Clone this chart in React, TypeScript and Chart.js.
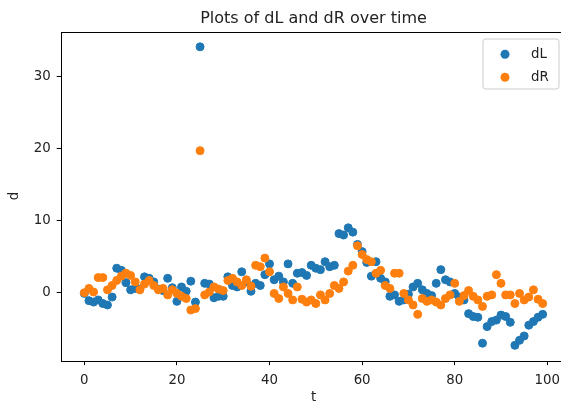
import React, { useEffect, useRef } from "react";
import { Chart, registerables } from "chart.js";

Chart.register(...registerables);

// time index (x values)
const tValues: number[] = Array.from({ length: 100 }, (_, i) => i);

// dL series
const dL: number[] = [
  -0.1, -1.1, -1.3, -1.0, -1.5, -1.7, -0.6, 3.4, 3.1, 1.4,
  0.4, 0.6, 0.5, 2.2, 2.0, 1.5, 0.5, 0.3, 2.0, 0.7,
  -1.2, 0.8, 0.2, 1.6, -1.3, 34.1, 1.3, 1.2, -0.7, -0.5,
  -0.5, 2.2, 1.0, 0.8, 2.9, 1.5, 0.2, 1.3, 1.0, 2.5,
  4.0, 1.8, 2.3, 1.5, 4.0, 1.3, 2.7, 2.8, 2.4, 3.8,
  3.4, 3.2, 4.3, 3.6, 3.8, 8.2, 8.0, 9.0, 8.4, 6.7,
  5.7, 4.2, 2.3, 4.3, 2.0, 1.5, -0.5, -0.3, -1.2, -1.0,
  -0.2, 0.8, 1.3, 0.4, -0.1, -0.4, 1.3, 3.2, 1.8, 1.5,
  -0.1, -0.6, -1.0, -2.9, -3.3, -3.4, -7.0, -4.7, -4.0, -3.8,
  -3.1, -3.3, -4.1, -7.3, -6.6, -6.0, -4.5, -4.0, -3.4, -3.0,
];

// dR series
const dR: number[] = [
  0.0, 0.6, 0.1, 2.1, 2.1, 0.4, 1.0, 1.7, 2.3, 2.7,
  2.4, 1.5, 0.4, 1.2, 1.7, 1.0, 0.4, 0.6, -0.3, 0.4,
  -0.1, -0.5, -0.8, -2.4, -2.2, 19.7, -0.3, 0.1, 0.8, 0.5,
  0.3, 1.7, 2.0, 1.5, 1.0, 1.8, 0.9, 3.8, 3.6, 4.8,
  2.9, -0.1, -0.8, 0.8, -0.1, -1.0, 0.8, -0.9, -1.3, -1.0,
  -1.5, -0.3, -1.0, -0.1, 1.0, 0.6, 1.5, 3.0, 3.8, 6.5,
  5.3, 4.6, 4.3, 2.7, 3.1, 1.0, 0.6, 2.7, 2.7, -0.1,
  -1.0, -1.7, -3.0, -0.8, -1.2, -1.0, -1.3, -1.7, -0.8, -0.3,
  1.3, -1.2, -0.4, 0.3, -0.5, -1.0, -1.9, -0.5, -0.3, 2.5,
  1.3, -0.3, -0.3, -1.5, -0.1, -1.0, -0.6, 0.4, -0.9, -1.5,
];

const xTicks: number[] = [0, 20, 40, 60, 80, 100];
const yTicks: number[] = [0, 10, 20, 30];

const seriesNames = ["dL", "dR"];
const seriesColors = ["#1f77b4", "#ff7f0e"];

const FONT = "'DejaVu Sans', sans-serif";
const TEXT = "#222222";

const boxPlugin = {
  id: "axesBox",
  afterDatasetsDraw(chart: any) {
    const { ctx, chartArea } = chart;
    ctx.save();
    ctx.strokeStyle = "#000000";
    ctx.lineWidth = 1;
    const l = Math.round(chartArea.left) + 0.5;
    const t = Math.round(chartArea.top) + 0.5;
    const r = Math.round(chartArea.right) + 0.5;
    const b = Math.round(chartArea.bottom) + 0.5;
    ctx.strokeRect(l, t, r - l, b - t);
    ctx.restore();
  },
};

const legendPlugin = {
  id: "mplLegend",
  afterDraw(chart: any) {
    const { ctx, chartArea } = chart;
    const right = chartArea.right - 6.6;
    const top = chartArea.top + 7.3;
    const w = 76;
    const h = 50;
    const left = right - w;
    ctx.save();
    const rad = 2.7;
    ctx.beginPath();
    ctx.moveTo(left + rad, top);
    ctx.lineTo(right - rad, top);
    ctx.quadraticCurveTo(right, top, right, top + rad);
    ctx.lineTo(right, top + h - rad);
    ctx.quadraticCurveTo(right, top + h, right - rad, top + h);
    ctx.lineTo(left + rad, top + h);
    ctx.quadraticCurveTo(left, top + h, left, top + h - rad);
    ctx.lineTo(left, top + rad);
    ctx.quadraticCurveTo(left, top, left + rad, top);
    ctx.closePath();
    ctx.fillStyle = "rgba(255,255,255,0.8)";
    ctx.fill();
    ctx.strokeStyle = "#cccccc";
    ctx.lineWidth = 1;
    ctx.stroke();
    seriesNames.forEach((name, i) => {
      const cy = top + 15.3 + i * 23;
      ctx.beginPath();
      ctx.arc(left + 22, cy, 4.5, 0, Math.PI * 2);
      ctx.fillStyle = seriesColors[i];
      ctx.fill();
      ctx.fillStyle = TEXT;
      ctx.font = `13.33px ${FONT}`;
      ctx.textAlign = "left";
      ctx.textBaseline = "middle";
      ctx.fillText(name, left + 48, cy);
    });
    ctx.restore();
  },
};

export default function App() {
  const ref = useRef<HTMLCanvasElement | null>(null);

  useEffect(() => {
    if (!ref.current) return;
    const series = [dL, dR];
    const chart = new Chart(ref.current, {
      type: "scatter",
      data: {
        datasets: series.map((vals, k) => ({
          label: seriesNames[k],
          data: tValues.map((x, i) => ({ x, y: vals[i] })),
          backgroundColor: seriesColors[k],
          borderColor: seriesColors[k],
          borderWidth: 1,
          pointRadius: 4,
          pointHoverRadius: 4,
          order: k === 0 ? 1 : 0,
        })),
      },
      options: {
        responsive: false,
        animation: false,
        devicePixelRatio: 1,
        layout: { padding: { left: 0, right: 6.4, top: 0, bottom: 0 } },
        plugins: {
          legend: { display: false },
          tooltip: { enabled: false },
          title: {
            display: true,
            text: "Plots of dL and dR over time",
            fullSize: false,
            color: TEXT,
            font: { family: FONT, size: 16, weight: "normal" },
            padding: { top: 9.1, bottom: 3.4 },
          },
        },
        scales: {
          x: {
            type: "linear",
            min: -4.95,
            max: 103.95,
            afterBuildTicks: (s: any) => {
              s.ticks = xTicks.map((v) => ({ value: v }));
            },
            afterFit: (s: any) => {
              s.height = 45.5;
            },
            grid: {
              display: true,
              drawOnChartArea: false,
              drawTicks: true,
              tickLength: 4.7,
              color: "#000000",
            },
            border: { display: false },
            ticks: {
              color: TEXT,
              font: { family: FONT, size: 13.33 },
              padding: 7,
              maxRotation: 0,
              autoSkip: false,
            },
            title: {
              display: true,
              text: "t",
              color: TEXT,
              font: { family: FONT, size: 13.33 },
              padding: { top: 0, bottom: 0 },
            },
          },
          y: {
            type: "linear",
            min: -9.4,
            max: 36.2,
            afterBuildTicks: (s: any) => {
              s.ticks = yTicks.map((v) => ({ value: v }));
            },
            afterFit: (s: any) => {
              s.width = 61.4;
            },
            grid: {
              display: true,
              drawOnChartArea: false,
              drawTicks: true,
              tickLength: 4.7,
              color: "#000000",
            },
            border: { display: false },
            ticks: {
              color: TEXT,
              font: { family: FONT, size: 13.33 },
              padding: 6,
              autoSkip: false,
            },
            title: {
              display: true,
              text: "d",
              color: TEXT,
              font: { family: FONT, size: 13.33 },
              padding: { top: 7, bottom: 0 },
            },
          },
        },
      },
      plugins: [boxPlugin, legendPlugin],
    } as any);
    return () => chart.destroy();
  }, []);

  return (
    <div
      style={{
        position: "absolute",
        left: 0,
        top: 0,
        width: 561,
        height: 406,
        overflow: "hidden",
        background: "#ffffff",
      }}
    >
      <canvas ref={ref} width={572} height={406} style={{ display: "block" }} />
    </div>
  );
}
